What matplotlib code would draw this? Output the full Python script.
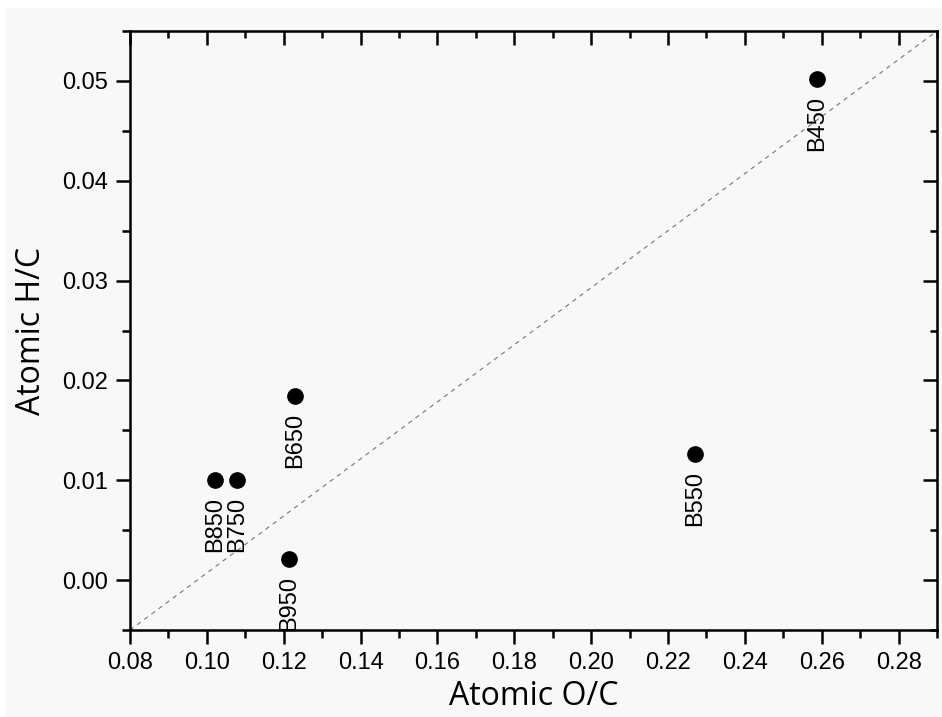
import matplotlib
matplotlib.use('Agg')
import matplotlib.pyplot as plt
from matplotlib.patches import Rectangle

# Sample names and atomic ratios
samples = ['B450', 'B550', 'B650', 'B750', 'B850', 'B950']
o_c = [0.2589, 0.2271, 0.1230, 0.1079, 0.1022, 0.1215]
h_c = [0.0502, 0.0126, 0.0184, 0.0100, 0.0100, 0.0021]

x_ticks = [0.08, 0.10, 0.12, 0.14, 0.16, 0.18, 0.20, 0.22, 0.24, 0.26, 0.28]
y_ticks = [0.00, 0.01, 0.02, 0.03, 0.04, 0.05]

fig = plt.figure(figsize=(9.42, 7.17), dpi=100, facecolor='white')
# light grey sheet with thin white border, like the scanned original
fig.patches.append(Rectangle((0.006, 0.0), 0.994, 0.989, transform=fig.transFigure,
                             facecolor='#f8f8f8', edgecolor='none', zorder=-10))

ax = fig.add_axes([0.138, 0.1213, 0.8567, 0.8355])
ax.set_facecolor('#f8f8f8')

# 1:1 guide line, corner to corner
ax.plot([0, 1], [0, 1], transform=ax.transAxes, color='#777777',
        linestyle=(0, (4, 4)), linewidth=0.8, zorder=1)

ax.plot(o_c, h_c, 'o', color='black', markersize=11, zorder=3)
for name, x, y in zip(samples, o_c, h_c):
    ax.annotate(name, (x, y), xytext=(0, -12), textcoords='offset points',
                rotation=90, ha='center', va='top', fontsize=17,
                family='Liberation Sans')

ax.set_xlim(0.08, 0.29)
ax.set_ylim(-0.005, 0.055)
ax.set_xticks(x_ticks)
ax.set_xticklabels([f'{v:.2f}' for v in x_ticks])
ax.set_yticks(y_ticks)
ax.set_yticklabels([f'{v:.2f}' for v in y_ticks])
ax.set_xticks([v + 0.01 for v in x_ticks], minor=True)
ax.set_yticks([v - 0.005 for v in y_ticks] + [0.055], minor=True)

for s in ax.spines.values():
    s.set_linewidth(1.8)

ax.tick_params(which='both', direction='out', width=1.8, top=False, right=False,
               labelsize=17)
ax.tick_params(which='major', length=10, pad=6)
ax.tick_params(which='minor', length=6)
for lab in ax.get_xticklabels() + ax.get_yticklabels():
    lab.set_family('Liberation Sans')

# mirrored inward ticks on top and right
ax2 = ax.secondary_xaxis('top')
ax2.set_xticks(x_ticks)
ax2.set_xticks([v + 0.01 for v in x_ticks], minor=True)
ax2.tick_params(which='both', direction='in', width=1.8, labeltop=False)
ax2.tick_params(which='major', length=10)
ax2.tick_params(which='minor', length=5)
ay2 = ax.secondary_yaxis('right')
ay2.set_yticks(y_ticks)
ay2.set_yticks([v - 0.005 for v in y_ticks], minor=True)
ay2.tick_params(which='both', direction='in', width=1.8, labelright=False)
ay2.tick_params(which='major', length=10)
ay2.tick_params(which='minor', length=5)

ax.set_xlabel('Atomic O/C', fontsize=23, family='Open Sans', labelpad=4)
ax.set_ylabel('Atomic H/C', fontsize=23, family='Open Sans', labelpad=10)

fig.savefig('out.png', dpi=100, facecolor=fig.get_facecolor())
